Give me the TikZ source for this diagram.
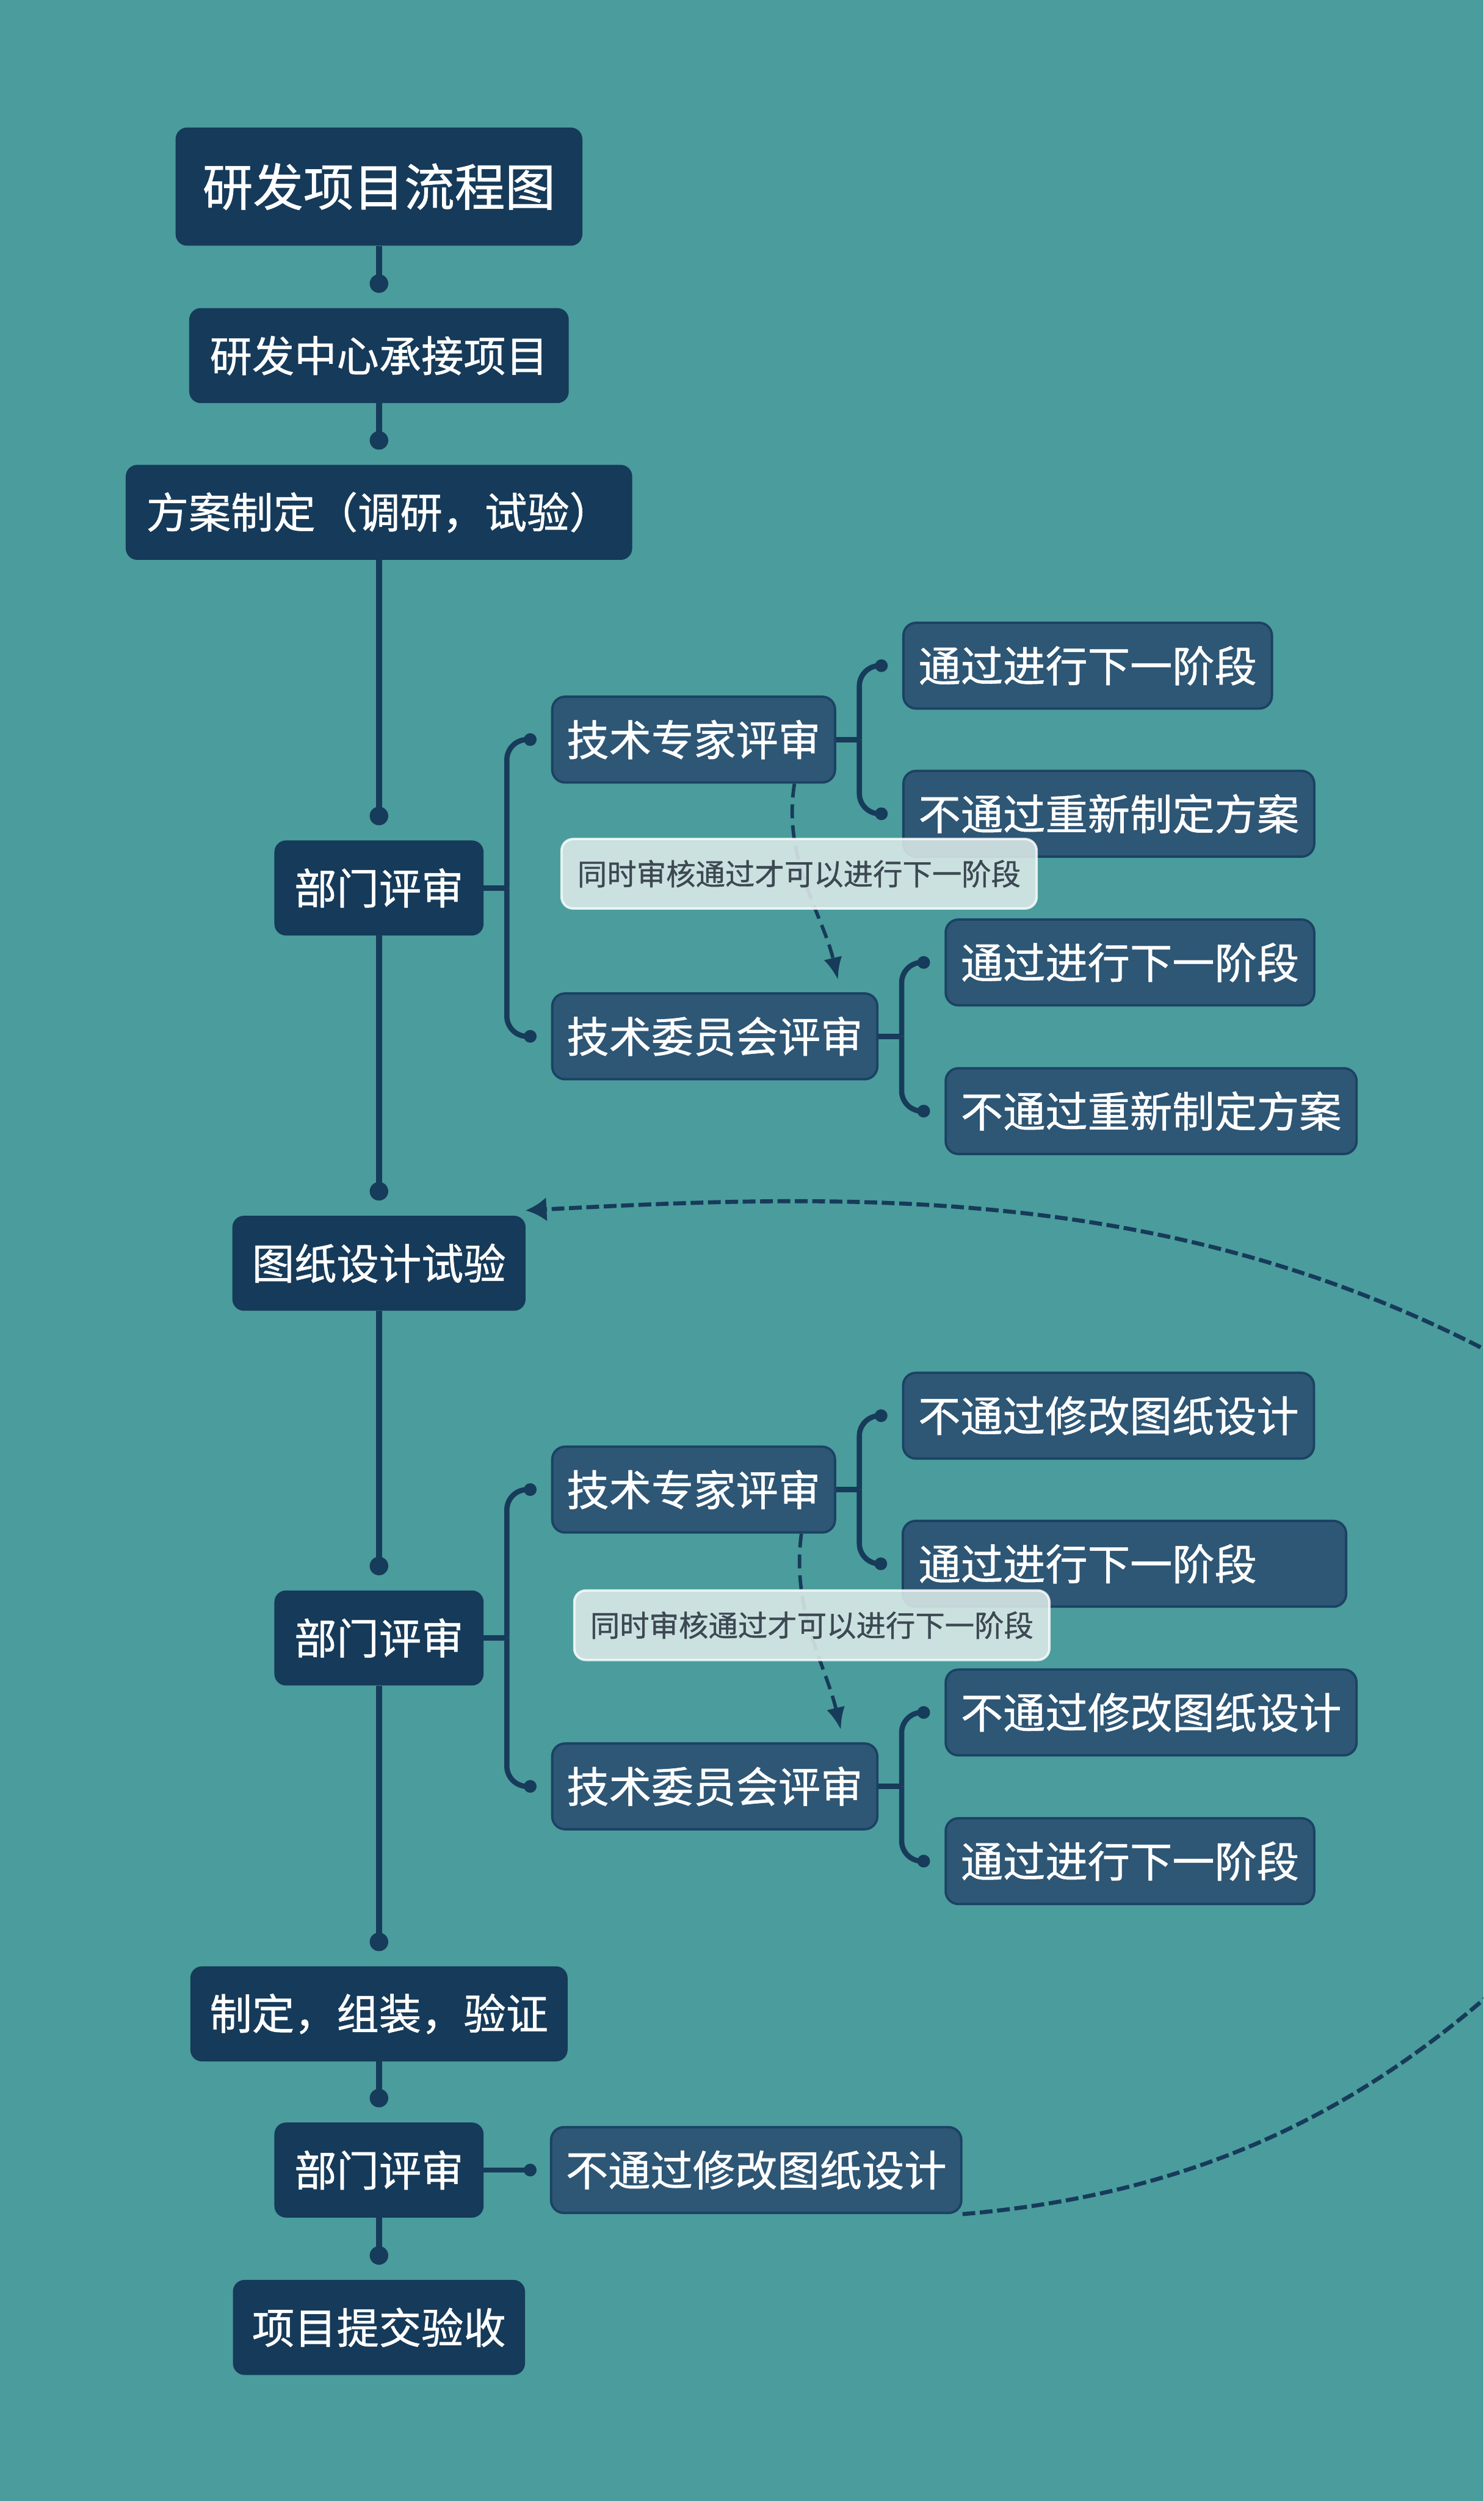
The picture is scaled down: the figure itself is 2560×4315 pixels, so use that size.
\documentclass[tikz,border=0pt]{standalone}
\usepackage{fontspec}
\setmainfont{Noto Sans CJK SC}[FakeBold=0.8]
\usetikzlibrary{arrows.meta,calc}
\definecolor{bg}{HTML}{4B9C9C}
\definecolor{dark}{HTML}{163A59}
\definecolor{mid}{HTML}{2E5675}
\definecolor{midb}{HTML}{1B4263}
\definecolor{linec}{HTML}{173B5A}
\definecolor{calfill}{HTML}{DDEBEA}
\definecolor{caltext}{HTML}{3D4852}
\begin{document}
\begin{tikzpicture}[x=1pt,y=-1pt,
  topbox/.style={fill=dark, rounded corners=20pt, text=white, font=\fontsize{73}{80}\selectfont, minimum height=164pt, inner sep=0pt},
  subbox/.style={fill=mid, draw=midb, line width=4pt, rounded corners=22pt, text=white, font=\fontsize{73}{80}\selectfont, minimum height=148pt, inner sep=0pt},
  callout/.style={fill=calfill, fill opacity=0.88, text opacity=1, draw=white, draw opacity=0.8, line width=4pt, rounded corners=20pt, text=caltext, font=\fontsize{51}{56}\selectfont, minimum height=120pt, minimum width=820pt, inner sep=0pt},
  trunk/.style={draw=linec, line width=10pt},
  branch/.style={draw=linec, line width=9pt},
  bigdot/.style={fill=linec},
  smalldash/.style={draw=linec, line width=6pt, dash pattern=on 24pt off 12pt, -{Latex[length=38pt,width=32pt]}},
  bigdash/.style={draw=linec, line width=7pt, dash pattern=on 22pt off 8pt, -{Latex[length=36pt,width=42pt]}}
]
\clip (0,0) rectangle (2560,4315);
\fill[bg] (0,0) rectangle (2560,4315);

% main column
\node[topbox, minimum width=702pt, minimum height=204pt, font=\fontsize{87}{95}\selectfont] (title) at (654,322) {研发项目流程图};
\node[topbox, minimum width=655pt] (n1) at (654,613.5) {研发中心承接项目};
\node[topbox, minimum width=874pt] (n2) at (654,884) {方案制定（调研，试验）};
\node[topbox, minimum width=361pt] (r1) at (654,1532) {部门评审};
\node[topbox, minimum width=506pt] (d) at (654,2179.5) {图纸设计试验};
\node[topbox, minimum width=361pt] (r2) at (654,2826) {部门评审};
\node[topbox, minimum width=651pt] (m) at (654,3474.5) {制定，组装，验证};
\node[topbox, minimum width=361pt] (r3) at (654,3744) {部门评审};
\node[topbox, minimum width=504pt] (acc) at (654,4015.5) {项目提交验收};

% section 1
\node[subbox, minimum width=488pt] (e1) at (1197,1276) {技术专家评审};
\node[subbox, minimum width=561pt] (c1) at (1233.5,1788) {技术委员会评审};
\node[subbox, minimum width=636pt] (e1a) at (1877,1148.5) {通过进行下一阶段};
\node[subbox, minimum width=709pt] (e1b) at (1913.5,1404) {不通过重新制定方案};
\node[subbox, minimum width=636pt] (c1a) at (1950,1660.5) {通过进行下一阶段};
\node[subbox, minimum width=709pt] (c1b) at (1986.5,1917) {不通过重新制定方案};

% section 2
\node[subbox, minimum width=488pt] (e2) at (1197,2570) {技术专家评审};
\node[subbox, minimum width=561pt] (c2) at (1233.5,3082) {技术委员会评审};
\node[subbox, minimum width=709pt] (e2a) at (1913,2442.5) {不通过修改图纸设计};
\node[subbox, text width=711pt, align=left, inner xsep=27pt] (e2b) at (1940.5,2698) {通过进行下一阶段};
\node[subbox, minimum width=709pt] (c2a) at (1986.5,2954.5) {不通过修改图纸设计};
\node[subbox, minimum width=636pt] (c2b) at (1950,3211) {通过进行下一阶段};

% section 3
\node[subbox, minimum width=708pt] (f) at (1305,3744) {不通过修改图纸设计};

% trunk connectors
\foreach \a/\b in {title/n1, n1/n2, n2/r1, r1/d, d/r2, r2/m, m/r3, r3/acc}{
  \coordinate (t\b) at ($(\b.north)+(0,-42)$);
  \draw[trunk] (\a.south) -- (t\b);
  \fill[bigdot] (t\b) circle (16pt);
}

% branch connectors
\foreach \p/\u/\v in {r1/e1/c1, e1/e1a/e1b, c1/c1a/c1b, r2/e2/c2, e2/e2a/e2b, c2/c2a/c2b}{
  \coordinate (j\p) at ($(\p.east)+(40,0)$);
  \coordinate (d\u) at ($(\u.west)+(-36,0)$);
  \coordinate (d\v) at ($(\v.west)+(-36,0)$);
  \draw[branch] (\p.east) -- (j\p);
  \draw[branch, rounded corners=35pt] (j\p) |- (d\u);
  \draw[branch, rounded corners=35pt] (j\p) |- (d\v);
  \fill[bigdot] (d\u) circle (11pt);
  \fill[bigdot] (d\v) circle (11pt);
}
\coordinate (df) at ($(f.west)+(-34,0)$);
\draw[branch] (r3.east) -- (df);
\fill[bigdot] (df) circle (11pt);

% dashed review arrows
\draw[smalldash] ($(e1.south)+(174,0)$) .. controls +(-21,130) and +(-26,-112) .. ($(c1.north)+(212.5,-22)$);
\draw[smalldash] ($(e2.south)+(186,0)$) .. controls +(-18,131) and +(-26,-111) .. ($(c2.north)+(217.5,-22)$);

% callouts
\node[callout] (k1) at (1379,1507.5) {同时审核通过才可以进行下一阶段};
\node[callout] (k2) at (1401,2804) {同时审核通过才可以进行下一阶段};

% loop back arrow
\coordinate (back) at ($(d.north east)+(0,-9)$);
\draw[bigdash] (f.south east) .. controls (2061,3786) and (2332,3645) .. (2560,3450)
  .. controls (3016,3060) and (3094,2601) .. (2560,2327)
  .. controls (2000,2040) and (1450,2060) .. (back);
\end{tikzpicture}
\end{document}
